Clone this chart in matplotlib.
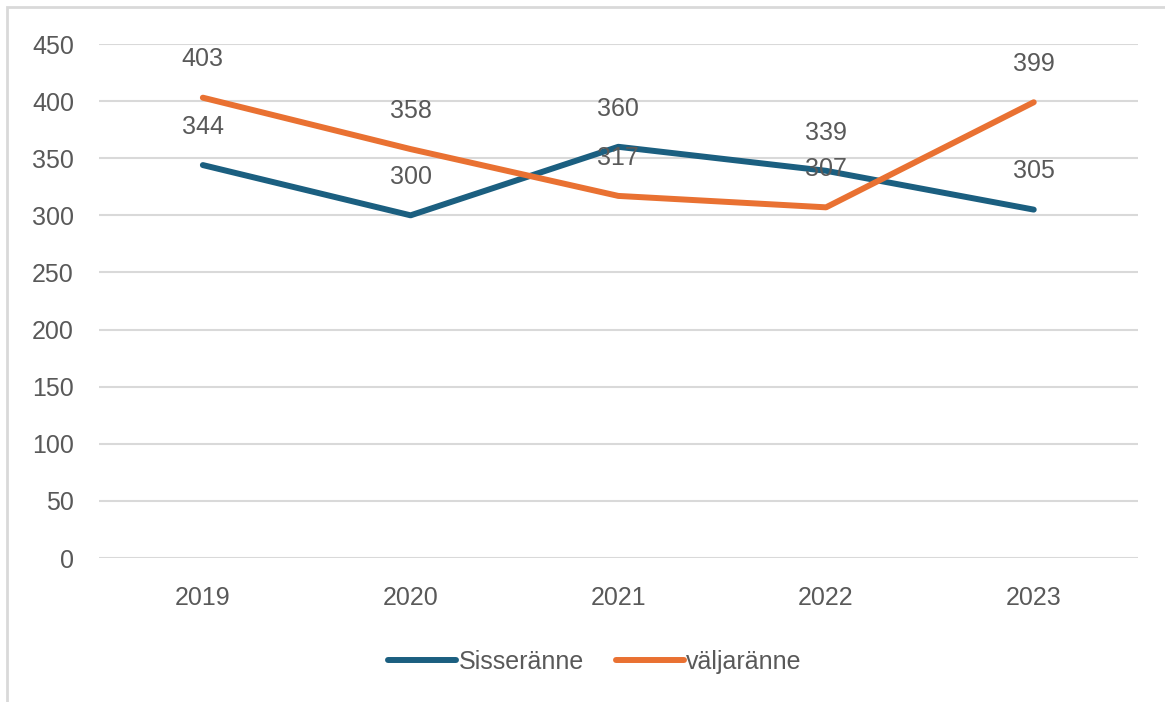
import matplotlib
matplotlib.use("Agg")
import matplotlib.pyplot as plt
from matplotlib.patches import Rectangle

plt.rcParams['font.family'] = ['Liberation Sans', 'DejaVu Sans']

years = ["2019", "2020", "2021", "2022", "2023"]
sisse = [344, 300, 360, 339, 305]
valja = [403, 358, 317, 307, 399]
series_names = ["Sisseränne", "väljaränne"]
yticks = [0, 50, 100, 150, 200, 250, 300, 350, 400, 450]

blue = "#1b5f80"
orange = "#e97132"
txt = "#595959"
fs = 18

fig = plt.figure(figsize=(11.65, 7.02), dpi=100)
# chart frame, partly cut off at the right/bottom
fig.patches.append(Rectangle((7 / 1165, -0.05), 1.2, (702 - 7) / 702 + 0.05,
                             transform=fig.transFigure, fill=False,
                             edgecolor="#d9d9d9", linewidth=2.0))

ax = fig.add_axes([99 / 1165, 144 / 702, (1137.6 - 99) / 1165, 514 / 702])
x = range(len(years))
ax.plot(x, sisse, color=blue, linewidth=4.3, solid_capstyle="round", label=series_names[0], zorder=3)
ax.plot(x, valja, color=orange, linewidth=4.3, solid_capstyle="round", label=series_names[1], zorder=3)

for i in x:
    ax.annotate(str(sisse[i]), (i, sisse[i]), xytext=(0, 27.5), textcoords="offset points",
                ha="center", va="center", fontsize=fs, color=txt, zorder=4)
    ax.annotate(str(valja[i]), (i, valja[i]), xytext=(0, 27.5), textcoords="offset points",
                ha="center", va="center", fontsize=fs, color=txt, zorder=4)

ax.set_xlim(-0.5, 4.5)
ax.set_ylim(0, 450)
ax.set_xticks(list(x))
ax.set_xticklabels(years)
ax.set_yticks(yticks)
ax.tick_params(axis="x", length=0, pad=20, labelsize=fs, colors=txt)
ax.tick_params(axis="y", length=0, pad=18, labelsize=fs, colors=txt)
ax.grid(axis="y", color="#d9d9d9", linewidth=1.5, zorder=0)
ax.set_axisbelow(True)
for s in ax.spines.values():
    s.set_visible(False)

leg = fig.legend(loc="center", bbox_to_anchor=(595 / 1165, 1 - 662 / 702), ncol=2,
                 frameon=False, fontsize=fs, handlelength=2.7, handletextpad=0.1,
                 columnspacing=1.3)
for t in leg.get_texts():
    t.set_color(txt)
for h in leg.get_lines():
    h.set_linewidth(4.3)

fig.savefig("out.png", dpi=100, facecolor="white")
